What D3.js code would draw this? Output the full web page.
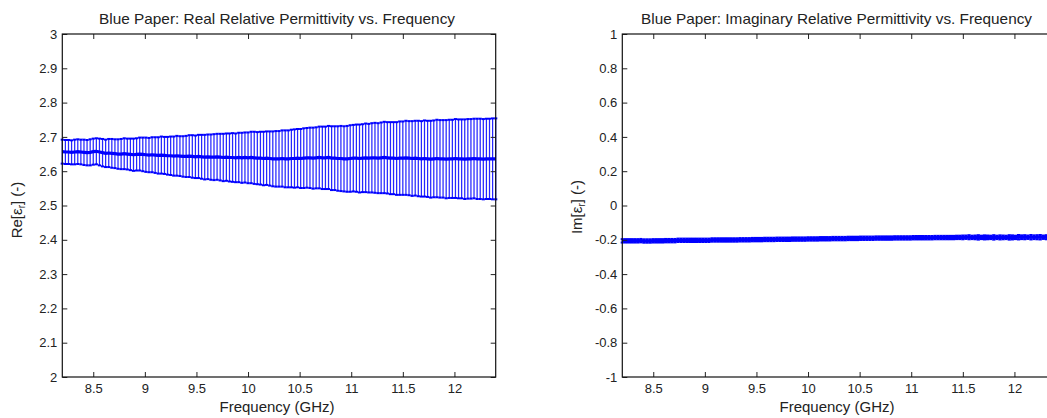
<!DOCTYPE html>
<html>
<head>
<meta charset="utf-8">
<script src="https://cdn.jsdelivr.net/npm/d3@7"></script>
<style>
  html, body { margin: 0; padding: 0; background: #fff; overflow: hidden; }
  svg { display: block; font-family: "Liberation Sans", Arial, sans-serif; }
</style>
</head>
<body>
<svg id="chart" width="1047" height="418"></svg>
<script>
// ---------------- data ----------------
const freq = [
  8.20,8.23,8.26,8.29,8.32,8.35,8.38,8.41,8.44,8.47,
  8.50,8.53,8.56,8.59,8.62,8.65,8.68,8.71,8.74,8.77,
  8.80,8.83,8.86,8.89,8.92,8.95,8.98,9.01,9.04,9.07,
  9.10,9.13,9.16,9.19,9.22,9.25,9.28,9.31,9.34,9.37,
  9.40,9.43,9.46,9.49,9.52,9.55,9.58,9.61,9.64,9.67,
  9.70,9.73,9.76,9.79,9.82,9.85,9.88,9.91,9.94,9.97,
  10.00,10.03,10.06,10.09,10.12,10.15,10.18,10.21,10.24,10.27,
  10.30,10.33,10.36,10.39,10.42,10.45,10.48,10.51,10.54,10.57,
  10.60,10.63,10.66,10.69,10.72,10.75,10.78,10.81,10.84,10.87,
  10.90,10.93,10.96,10.99,11.02,11.05,11.08,11.11,11.14,11.17,
  11.20,11.23,11.26,11.29,11.32,11.35,11.38,11.41,11.44,11.47,
  11.50,11.53,11.56,11.59,11.62,11.65,11.68,11.71,11.74,11.77,
  11.80,11.83,11.86,11.89,11.92,11.95,11.98,12.01,12.04,12.07,
  12.10,12.13,12.16,12.19,12.22,12.25,12.28,12.31,12.34,12.37,
  12.40
];
const reMean = [
  2.657,2.656,2.656,2.655,2.656,2.657,2.656,2.655,2.654,2.655,
  2.657,2.658,2.656,2.654,2.652,2.653,2.652,2.651,2.650,2.650,
  2.651,2.650,2.649,2.648,2.649,2.650,2.649,2.648,2.647,2.648,
  2.647,2.646,2.647,2.646,2.645,2.645,2.644,2.645,2.644,2.643,
  2.643,2.644,2.643,2.642,2.643,2.642,2.641,2.642,2.641,2.641,
  2.642,2.641,2.640,2.641,2.640,2.640,2.639,2.640,2.639,2.640,
  2.639,2.640,2.639,2.638,2.638,2.637,2.638,2.637,2.636,2.636,
  2.636,2.637,2.636,2.636,2.637,2.637,2.638,2.637,2.638,2.639,
  2.639,2.638,2.639,2.640,2.639,2.639,2.640,2.638,2.638,2.637,
  2.637,2.636,2.636,2.637,2.638,2.638,2.637,2.638,2.639,2.638,
  2.639,2.639,2.638,2.639,2.640,2.639,2.638,2.638,2.637,2.638,
  2.638,2.639,2.638,2.637,2.638,2.637,2.636,2.637,2.636,2.635,
  2.636,2.637,2.636,2.636,2.635,2.636,2.636,2.637,2.636,2.636,
  2.635,2.636,2.636,2.637,2.636,2.636,2.635,2.636,2.636,2.636,
  2.636
];
const reErr = [
  0.035,0.035,0.035,0.035,0.036,0.036,0.036,0.037,0.037,0.038,
  0.038,0.038,0.039,0.040,0.040,0.041,0.042,0.042,0.043,0.044,
  0.045,0.045,0.046,0.047,0.047,0.048,0.049,0.050,0.050,0.051,
  0.052,0.053,0.054,0.054,0.055,0.056,0.057,0.058,0.058,0.059,
  0.060,0.061,0.062,0.062,0.063,0.064,0.065,0.065,0.066,0.067,
  0.067,0.068,0.069,0.069,0.070,0.071,0.071,0.072,0.073,0.073,
  0.074,0.075,0.076,0.076,0.077,0.078,0.078,0.079,0.080,0.081,
  0.081,0.082,0.083,0.083,0.084,0.085,0.085,0.086,0.087,0.087,
  0.088,0.089,0.089,0.090,0.091,0.091,0.092,0.093,0.093,0.094,
  0.095,0.095,0.096,0.097,0.097,0.098,0.099,0.099,0.100,0.100,
  0.101,0.102,0.102,0.103,0.104,0.104,0.105,0.105,0.106,0.107,
  0.107,0.108,0.108,0.109,0.109,0.110,0.110,0.111,0.111,0.112,
  0.112,0.113,0.113,0.113,0.114,0.114,0.114,0.115,0.115,0.115,
  0.116,0.116,0.116,0.116,0.117,0.117,0.117,0.117,0.117,0.118,
  0.118
];
const imMean = [
  -0.206,-0.206,-0.206,-0.206,-0.206,-0.206,-0.205,-0.207,-0.207,-0.207,
  -0.206,-0.206,-0.206,-0.206,-0.205,-0.205,-0.205,-0.205,-0.203,-0.203,
  -0.203,-0.203,-0.203,-0.203,-0.203,-0.203,-0.203,-0.203,-0.203,-0.201,
  -0.201,-0.201,-0.201,-0.201,-0.201,-0.201,-0.201,-0.201,-0.200,-0.200,
  -0.200,-0.200,-0.199,-0.199,-0.199,-0.199,-0.198,-0.198,-0.198,-0.198,
  -0.197,-0.197,-0.197,-0.197,-0.197,-0.196,-0.196,-0.196,-0.196,-0.196,
  -0.195,-0.195,-0.195,-0.195,-0.194,-0.194,-0.194,-0.194,-0.193,-0.193,
  -0.193,-0.193,-0.193,-0.192,-0.192,-0.192,-0.192,-0.191,-0.191,-0.191,
  -0.191,-0.191,-0.190,-0.190,-0.190,-0.190,-0.190,-0.190,-0.189,-0.189,
  -0.189,-0.189,-0.189,-0.189,-0.188,-0.188,-0.188,-0.188,-0.188,-0.188,
  -0.188,-0.187,-0.187,-0.187,-0.187,-0.187,-0.187,-0.187,-0.186,-0.186,
  -0.186,-0.185,-0.185,-0.186,-0.186,-0.186,-0.186,-0.186,-0.186,-0.186,
  -0.186,-0.186,-0.186,-0.186,-0.186,-0.186,-0.186,-0.186,-0.185,-0.185,
  -0.185,-0.185,-0.185,-0.185,-0.185,-0.185,-0.185,-0.185,-0.185,-0.185,
  -0.185
];
const imErr = [
  0.010,0.010,0.010,0.010,0.010,0.010,0.010,0.010,0.010,0.010,
  0.010,0.010,0.010,0.010,0.010,0.010,0.010,0.010,0.010,0.010,
  0.010,0.010,0.010,0.010,0.010,0.010,0.010,0.010,0.010,0.010,
  0.010,0.010,0.010,0.010,0.010,0.010,0.010,0.010,0.010,0.010,
  0.010,0.010,0.010,0.010,0.010,0.010,0.010,0.010,0.010,0.010,
  0.010,0.010,0.010,0.010,0.010,0.010,0.010,0.010,0.010,0.010,
  0.010,0.010,0.010,0.010,0.010,0.010,0.010,0.010,0.010,0.010,
  0.010,0.010,0.010,0.010,0.010,0.010,0.010,0.010,0.010,0.010,
  0.010,0.010,0.010,0.010,0.010,0.010,0.010,0.010,0.010,0.010,
  0.010,0.010,0.010,0.010,0.010,0.010,0.010,0.010,0.010,0.010,
  0.010,0.010,0.010,0.010,0.010,0.010,0.010,0.010,0.010,0.010,
  0.011,0.010,0.012,0.010,0.011,0.013,0.010,0.012,0.011,0.010,
  0.013,0.010,0.012,0.011,0.010,0.013,0.012,0.010,0.013,0.011,
  0.012,0.010,0.013,0.011,0.012,0.013,0.010,0.012,0.013,0.011,
  0.012
];
const xTicks = [8.5, 9, 9.5, 10, 10.5, 11, 11.5, 12];
const reTicks = [2, 2.1, 2.2, 2.3, 2.4, 2.5, 2.6, 2.7, 2.8, 2.9, 3];
const imTicks = [-1, -0.8, -0.6, -0.4, -0.2, 0, 0.2, 0.4, 0.6, 0.8, 1];
const titles = ["Blue Paper: Real Relative Permittivity vs. Frequency",
                "Blue Paper: Imaginary Relative Permittivity vs. Frequency"];
const xLabel = "Frequency (GHz)";

// ---------------- layout ----------------
const svg = d3.select("#chart");
const plotTop = 34, plotBottom = 377;
const BLUE = "#0000ff";

function panel(opt) {
  const x = d3.scaleLinear().domain([8.2, 12.4]).range([opt.left, opt.left + 433.4]);
  const y = d3.scaleLinear().domain(opt.yDomain).range([plotBottom, plotTop]);
  const g = svg.append("g");

  const data = freq.map((f, i) => ({ f, m: opt.mean[i], e: opt.err[i] }));

  // error bars
  const eb = g.append("g");
  eb.selectAll("line.v").data(data).join("line")
    .attr("x1", d => x(d.f)).attr("x2", d => x(d.f))
    .attr("y1", d => y(d.m - d.e)).attr("y2", d => y(d.m + d.e))
    .attr("stroke", BLUE).attr("stroke-width", 1.25).attr("stroke-opacity", 0.85);
  const cw = 1.6;
  eb.selectAll("line.u").data(data).join("line")
    .attr("x1", d => x(d.f) - cw).attr("x2", d => x(d.f) + cw)
    .attr("y1", d => y(d.m + d.e)).attr("y2", d => y(d.m + d.e))
    .attr("stroke", BLUE).attr("stroke-width", 2);
  eb.selectAll("line.l").data(data).join("line")
    .attr("x1", d => x(d.f) - cw).attr("x2", d => x(d.f) + cw)
    .attr("y1", d => y(d.m - d.e)).attr("y2", d => y(d.m - d.e))
    .attr("stroke", BLUE).attr("stroke-width", 2);

  // mean line
  g.append("path").datum(data)
    .attr("d", d3.line().x(d => x(d.f)).y(d => y(d.m)))
    .attr("fill", "none").attr("stroke", BLUE).attr("stroke-width", 3.2);

  // axes with inward ticks on all four sides
  const fmt = d => String(+d.toFixed(2));
  const styleAxis = sel => {
    sel.select(".domain").remove();
    sel.selectAll("line").attr("stroke", "#222");
    sel.selectAll("text").attr("fill", "#222").attr("font-size", "13px")
      .attr("font-family", "'Liberation Sans', Arial, sans-serif");
  };
  g.append("g").attr("transform", `translate(0,${plotBottom})`)
    .call(d3.axisBottom(x).tickValues(xTicks).tickFormat(fmt).tickSizeInner(-5).tickSizeOuter(0).tickPadding(7))
    .call(styleAxis);
  g.append("g").attr("transform", `translate(0,${plotTop})`)
    .call(d3.axisTop(x).tickValues(xTicks).tickFormat("").tickSizeInner(-5).tickSizeOuter(0))
    .call(styleAxis);
  g.append("g").attr("transform", `translate(${opt.left},0)`)
    .call(d3.axisLeft(y).tickValues(opt.yTicks).tickFormat(fmt).tickSizeInner(-5).tickSizeOuter(0).tickPadding(5))
    .call(styleAxis);
  g.append("g").attr("transform", `translate(${x.range()[1]},0)`)
    .call(d3.axisRight(y).tickValues(opt.yTicks).tickFormat("").tickSizeInner(-5).tickSizeOuter(0))
    .call(styleAxis);

  // box
  g.append("rect").attr("x", opt.left).attr("y", plotTop)
    .attr("width", x.range()[1] - opt.left).attr("height", plotBottom - plotTop)
    .attr("fill", "none").attr("stroke", "#111").attr("stroke-width", 1.2);

  // title
  g.append("text").attr("x", opt.titleX).attr("y", 24)
    .attr("text-anchor", "middle").attr("font-size", "15px").attr("fill", "#222")
    .attr("textLength", opt.titleW).attr("lengthAdjust", "spacingAndGlyphs")
    .text(opt.title);

  // x label
  g.append("text").attr("x", opt.xLabelX).attr("y", 411.5)
    .attr("text-anchor", "middle").attr("font-size", "15px").attr("fill", "#222")
    .attr("textLength", 115).attr("lengthAdjust", "spacingAndGlyphs")
    .text(xLabel);

  // y label
  const yl = g.append("text")
    .attr("transform", `translate(${opt.yLabelX},${opt.yLabelY}) rotate(-90)`)
    .attr("text-anchor", "middle").attr("font-size", "15px").attr("fill", "#222");
  yl.append("tspan").text(opt.yPrefix + "[ε");
  yl.append("tspan").attr("font-size", "10px").attr("dy", 3).text("r");
  yl.append("tspan").attr("dy", -3).text("] (-)");
}

panel({
  left: 62.3, yDomain: [2, 3], yTicks: reTicks, mean: reMean, err: reErr,
  title: titles[0], titleX: 277, titleW: 356, xLabelX: 277,
  yLabelX: 22, yLabelY: 210, yPrefix: "Re"
});
panel({
  left: 622.3, yDomain: [-1, 1], yTicks: imTicks, mean: imMean, err: imErr,
  title: titles[1], titleX: 836.5, titleW: 391, xLabelX: 837,
  yLabelX: 582, yLabelY: 207, yPrefix: "Im"
});
</script>
</body>
</html>
